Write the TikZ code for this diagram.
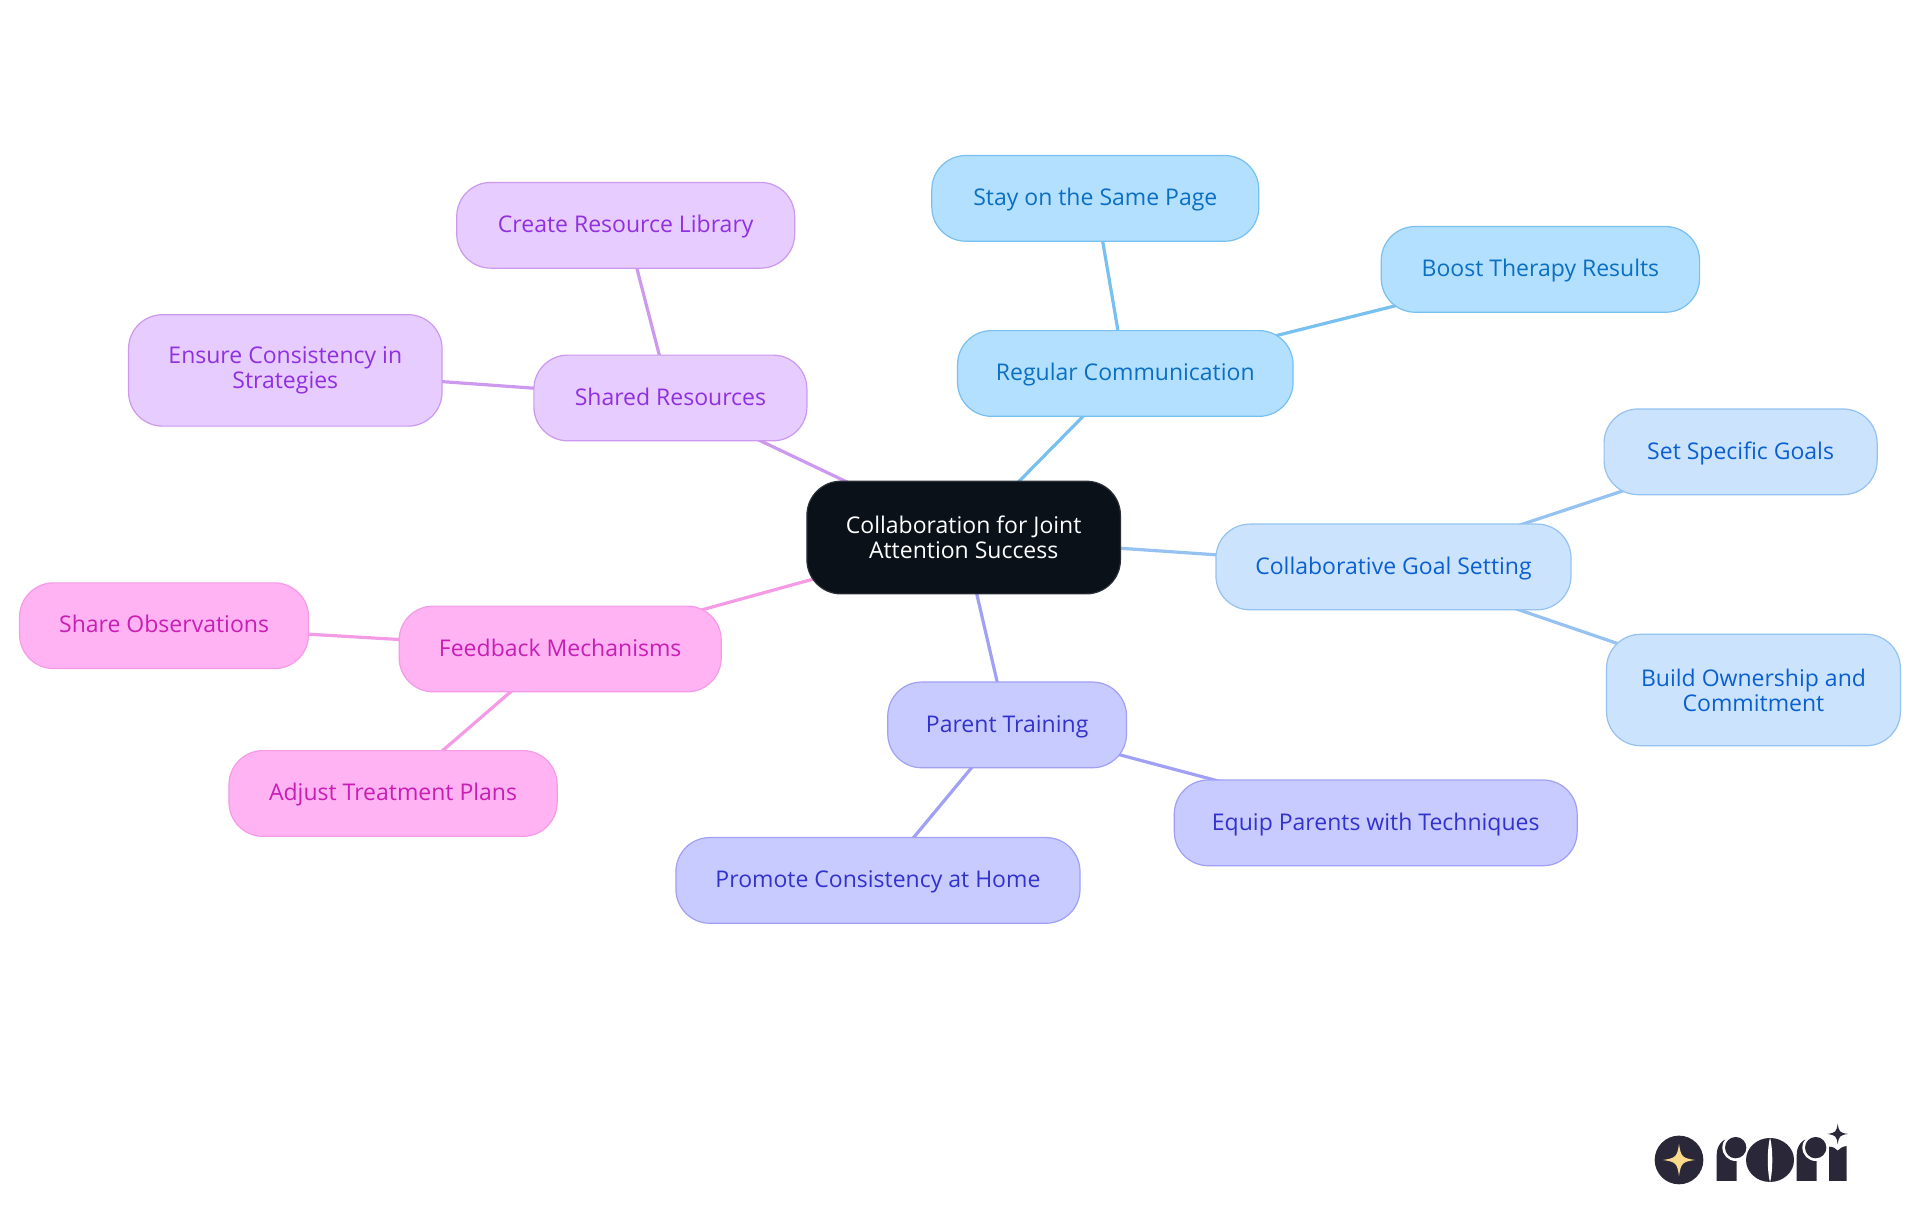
\documentclass[tikz,border=0pt]{standalone}
\usepackage{fontspec}
\setmainfont{Open Sans}
\usetikzlibrary{backgrounds}
\definecolor{RootFill}{HTML}{0B1119}
\definecolor{RootLine}{HTML}{2A2F37}
\definecolor{RegFill}{HTML}{B3E0FF}
\definecolor{RegLine}{HTML}{78C0F0}
\definecolor{RegText}{HTML}{0B6FC2}
\definecolor{GoalFill}{HTML}{CCE3FD}
\definecolor{GoalLine}{HTML}{95C2F0}
\definecolor{GoalText}{HTML}{0A60D0}
\definecolor{ParFill}{HTML}{C8CBFF}
\definecolor{ParLine}{HTML}{A0A0F5}
\definecolor{ParText}{HTML}{3232CC}
\definecolor{FeedFill}{HTML}{FFB3F3}
\definecolor{FeedLine}{HTML}{F59BE5}
\definecolor{FeedText}{HTML}{C81EB4}
\definecolor{ShareFill}{HTML}{E6CCFF}
\definecolor{ShareLine}{HTML}{CC99EE}
\definecolor{ShareText}{HTML}{9030E0}
\definecolor{LogoDark}{HTML}{2A2838}
\definecolor{LogoStar}{HTML}{FBD98B}
\newcommand{\fourstar}[3]{%
  (#1-#3,#2) .. controls (#1-0.2*#3,#2-0.12*#3) and (#1-0.12*#3,#2-0.2*#3) .. (#1,#2-#3)
  .. controls (#1+0.12*#3,#2-0.2*#3) and (#1+0.2*#3,#2-0.12*#3) .. (#1+#3,#2)
  .. controls (#1+0.2*#3,#2+0.12*#3) and (#1+0.12*#3,#2+0.2*#3) .. (#1,#2+#3)
  .. controls (#1-0.12*#3,#2+0.2*#3) and (#1-0.2*#3,#2+0.12*#3) .. (#1-#3,#2) -- cycle}
\begin{document}
\begin{tikzpicture}[x=0.6122pt,y=-0.6122pt]
  \tikzset{BoxSize/.style 2 args = {
  minimum width = #1*0.6122pt,
  minimum height = #2*0.6122pt},
  MapBox/.style = {
  shape = rectangle,
  rounded corners = 17pt,
  inner sep = 0pt,
  align = center,
  line width = 0.6pt,
  font = \fontsize{11.5}{12.6}\selectfont},
  OneLine/.style = {text height = 9pt, text depth = 1.8pt},
  RootBox/.style = {MapBox, fill = RootFill, draw = RootLine, text = white},
  RegBox/.style = {MapBox, fill = RegFill, draw = RegLine, text = RegText},
  GoalBox/.style = {MapBox, fill = GoalFill, draw = GoalLine, text = GoalText},
  ParBox/.style = {MapBox, fill = ParFill, draw = ParLine, text = ParText},
  FeedBox/.style = {MapBox, fill = FeedFill, draw = FeedLine, text = FeedText},
  ShareBox/.style = {MapBox, fill = ShareFill, draw = ShareLine, text = ShareText},
  MapLine/.style = {line width = 1.6pt}}
  \useasboundingbox (0,0) rectangle (1568,992.2);
  \node[RootBox, BoxSize={256}{92}] (root) at (787,439) {Collaboration for Joint\\Attention Success};
  \begin{scope}
    \node[RegBox, OneLine, BoxSize={274}{70}] (reg) at (919,305) {Regular Communication};
    \node[RegBox, OneLine, BoxSize={267}{70}] (stay) at (894.5,162) {Stay on the Same Page};
    \node[RegBox, OneLine, BoxSize={260}{70}] (boost) at (1258,220) {Boost Therapy Results};
  \end{scope}
  \begin{scope}
    \node[GoalBox, OneLine, BoxSize={290}{70}] (goal) at (1138,463) {Collaborative Goal Setting};
    \node[GoalBox, OneLine, BoxSize={223}{70}] (specific) at (1421.5,369) {Set Specific Goals};
    \node[GoalBox, BoxSize={240}{91}] (ownership) at (1432,563.5) {Build Ownership and\\Commitment};
  \end{scope}
  \begin{scope}
    \node[ParBox, OneLine, BoxSize={195}{70}] (parent) at (822.5,592) {Parent Training};
    \node[ParBox, OneLine, BoxSize={329}{70}] (equip) at (1123.5,672) {Equip Parents with Techniques};
    \node[ParBox, OneLine, BoxSize={330}{70}] (promote) at (717,719) {Promote Consistency at Home};
  \end{scope}
  \begin{scope}
    \node[FeedBox, OneLine, BoxSize={263}{70}] (feedback) at (457.5,530) {Feedback Mechanisms};
    \node[FeedBox, OneLine, BoxSize={236}{70}] (observe) at (134,511) {Share Observations};
    \node[FeedBox, OneLine, BoxSize={268}{70}] (adjust) at (321,648) {Adjust Treatment Plans};
  \end{scope}
  \begin{scope}
    \node[ShareBox, OneLine, BoxSize={223}{70}] (shared) at (547.5,325) {Shared Resources};
    \node[ShareBox, OneLine, BoxSize={276}{70}] (library) at (511,184) {Create Resource Library};
    \node[ShareBox, BoxSize={256}{91}] (ensure) at (233,302.5) {Ensure Consistency in\\Strategies};
  \end{scope}
  \begin{pgfonlayer}{background}
    \draw[MapLine, RegLine] (root.center) -- (reg.center);
    \draw[MapLine, RegLine] (reg.center) -- (stay.center);
    \draw[MapLine, RegLine] (reg.center) -- (boost.center);
    \draw[MapLine, GoalLine] (root.center) -- (goal.center);
    \draw[MapLine, GoalLine] (goal.center) -- (specific.center);
    \draw[MapLine, GoalLine] (goal.center) -- (ownership.center);
    \draw[MapLine, ParLine] (root.center) -- (parent.center);
    \draw[MapLine, ParLine] (parent.center) -- (equip.center);
    \draw[MapLine, ParLine] (parent.center) -- (promote.center);
    \draw[MapLine, FeedLine] (root.center) -- (feedback.center);
    \draw[MapLine, FeedLine] (feedback.center) -- (observe.center);
    \draw[MapLine, FeedLine] (feedback.center) -- (adjust.center);
    \draw[MapLine, ShareLine] (root.center) -- (shared.center);
    \draw[MapLine, ShareLine] (shared.center) -- (library.center);
    \draw[MapLine, ShareLine] (shared.center) -- (ensure.center);
  \end{pgfonlayer}
  % logo
  \begin{scope}[shift={(1323,898.3)},x=0.16667pt,y=-0.16667pt]
    \fill[LogoDark] (177,180) circle (73);
    \fill[LogoStar] \fourstar{177}{180}{48};
    \fill[LogoDark] (290,243) -- (290,165) .. controls (290,138) and (305,118) .. (330,114)
      -- (350,150) -- (350,243) -- cycle;
    \fill[white] (347,143) circle (40);
    \fill[LogoDark] (347,143) circle (32);
    \fill[LogoDark] (450,180) ellipse (72 and 66);
    \fill[white] (450,112) .. controls (441,150) and (441,210) .. (450,248)
      .. controls (459,210) and (459,150) .. (450,112) -- cycle;
    \fill[LogoDark] (530,243) -- (530,165) .. controls (530,138) and (545,118) .. (570,114)
      -- (590,150) -- (590,243) -- cycle;
    \fill[white] (587,143) circle (40);
    \fill[LogoDark] (587,143) circle (32);
    \fill[LogoDark] (627,243) -- (627,140) .. controls (640,140) and (648,146) .. (653,152)
      .. controls (658,146) and (666,140) .. (680,138) -- (680,243) -- cycle;
    \fill[LogoDark] \fourstar{653}{102}{31};
  \end{scope}
\end{tikzpicture}
\end{document}
